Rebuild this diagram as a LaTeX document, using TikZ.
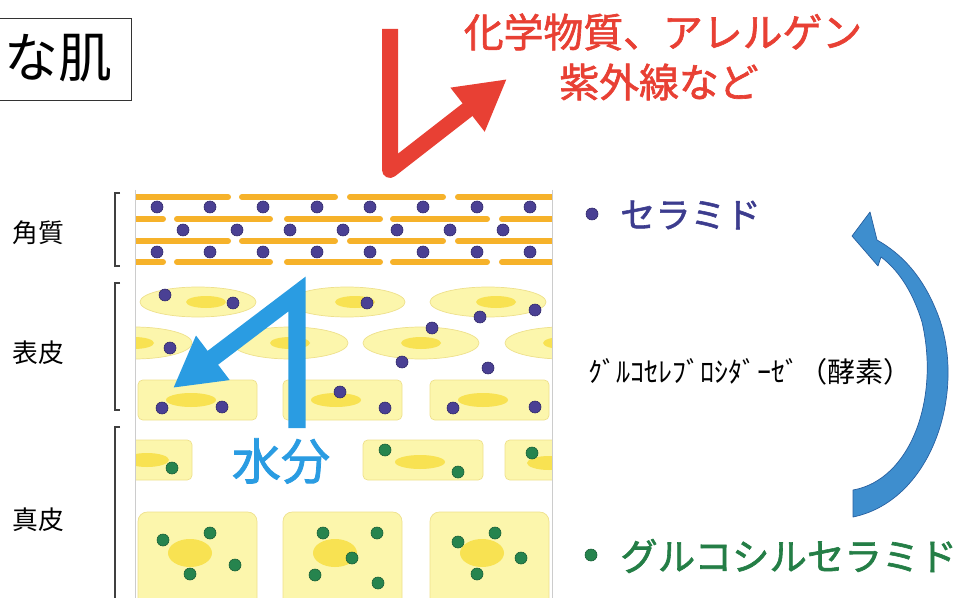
\documentclass[tikz,border=0pt]{standalone}
\usepackage{fontspec}
\setmainfont{Noto Sans CJK JP}
\newfontfamily\jpmid[FakeBold=1.6]{Noto Sans CJK JP}
\usetikzlibrary{arrows.meta}

\definecolor{chemred}{RGB}{232,64,52}
\definecolor{lipidorange}{RGB}{246,178,42}
\definecolor{cerpurple}{RGB}{74,64,148}
\definecolor{cerline}{RGB}{48,40,105}
\definecolor{glcgreen}{RGB}{38,132,78}
\definecolor{glcline}{RGB}{25,95,55}
\definecolor{cellfill}{RGB}{252,246,172}
\definecolor{cellline}{RGB}{238,224,140}
\definecolor{nucfill}{RGB}{248,226,82}
\definecolor{waterblue}{RGB}{42,156,226}
\definecolor{enzblue}{RGB}{62,142,206}
\definecolor{enzline}{RGB}{40,96,160}
\definecolor{certext}{RGB}{60,60,142}
\definecolor{glctext}{RGB}{36,126,70}

\tikzset{
  lipid/.style={draw=lipidorange, line width=0.18cm, line cap=round},
  cer/.style={fill=cerpurple, draw=cerline, line width=0.5pt},
  glc/.style={fill=glcgreen, draw=glcline, line width=0.5pt},
  cell/.style={fill=cellfill, draw=cellline, line width=0.6pt},
  nucleus/.style={fill=nucfill},
  bracket/.style={draw=black!75, line width=0.9pt},
  layerlbl/.style={font=\fontsize{22}{24}\selectfont},
}

\begin{document}
\begin{tikzpicture}[x=0.03cm, y=-0.03cm]
\useasboundingbox (0,0) rectangle (960,598);

% title box, cut by the left edge
\begin{scope}
  \clip (0,0) rectangle (960,598);
  \draw[black!80, line width=0.8pt] (-20,18) rectangle (131,100);
\end{scope}
\node (title) at (58,58) {\fontsize{46}{50}\selectfont な肌};

% red arrow and its label
\coordinate (redtop) at (390,29);
\coordinate (redbend) at (390,170);
\coordinate (redtip) at (507,79);
\draw[chemred, line width=0.48cm, line join=round,
      -{Triangle[length=1.5cm, width=1.56cm]}] (redtop) -- (redbend) -- (redtip);
\node[text=chemred] (chemtxt) at (663,32) {\jpmid\fontsize{34}{36}\selectfont 化学物質、アレルゲン};
\node[text=chemred] (uvtxt) at (659,82) {\jpmid\fontsize{34}{36}\selectfont 紫外線など};

% skin block
\begin{scope}
  \clip (135,188) rectangle (552,598);
  % horny layer
  \foreach \y in {197,241}
    \foreach \a/\b in {135/228,242/335,350/443,458/552}
      \draw[lipid] (\a,\y) -- (\b,\y);
  \foreach \y in {219,262}
    \foreach \a/\b in {120/163,177/270,287/380,393/487,502/560}
      \draw[lipid] (\a,\y) -- (\b,\y);
  \foreach \y in {207,252}
    \foreach \x in {157,210,263,317,370,423,477,530}
      \filldraw[cer] (\x,\y) circle (6);
  \foreach \x in {183,237,290,343,397,450,503}
    \filldraw[cer] (\x,230) circle (6);

  % epidermis
  \foreach \x in {198,347,488} {
    \filldraw[cell] (\x,302) ellipse (58 and 15);
    \fill[nucleus] (\x+8,302) ellipse (20 and 6);
  }
  \foreach \x in {134,290,421,563} {
    \filldraw[cell] (\x,343) ellipse (58 and 16);
    \fill[nucleus] (\x,343) ellipse (20 and 6);
  }
  \foreach \x in {138,283,430} {
    \filldraw[cell, rounded corners=4pt] (\x,380) rectangle ++(119,40);
    \fill[nucleus] (\x+53,400) ellipse (25 and 7);
  }
  \foreach \x/\y in {165/295,233/303,367/303,535/310,480/317,432/328,170/348,
                     402/362,488/368,340/392,162/408,222/407,385/408,453/408,535/407}
    \filldraw[cer] (\x,\y) circle (6);

  % dermis
  \foreach \a/\b in {80/192,363/483,505/620} {
    \filldraw[cell, rounded corners=4pt] (\a,440) rectangle (\b,480);
  }
  \fill[nucleus] (147,460) ellipse (22 and 7);
  \fill[nucleus] (420,462) ellipse (25 and 7);
  \fill[nucleus] (549,463) ellipse (22 and 7);
  \foreach \x in {138,283,430} {
    \filldraw[cell, rounded corners=8pt] (\x,512) rectangle ++(119,100);
    \fill[nucleus] (\x+52,553) ellipse (22 and 14);
  }
  \foreach \x/\y in {172/468,385/450,458/472,532/453,163/540,210/533,235/565,190/574,
                     323/533,377/533,352/558,315/575,378/583,458/542,495/533,521/558,477/574}
    \filldraw[glc] (\x,\y) circle (6);
\end{scope}
\draw[black!20, line width=0.6pt] (135,190) -- (135,598);
\draw[black!20, line width=0.6pt] (552,190) -- (552,598);

% water arrow
\coordinate (waterbot) at (297,428);
\coordinate (watertop) at (297,294);
\coordinate (watertip) at (173,388);
\draw[waterblue, line width=0.52cm, line join=miter,
      -{Triangle[length=1.5cm, width=1.56cm]}] (waterbot) -- (watertop) -- (watertip);
\node[text=waterblue] (watertxt) at (281,461) {\jpmid\fontsize{42}{44}\selectfont 水分};

% layer brackets
\draw[bracket] (120,193) -- (115,193) -- (115,266) -- (120,266);
\draw[bracket] (120,283) -- (115,283) -- (115,410) -- (120,410);
\draw[bracket] (120,427) -- (115,427) -- (115,600);
\node[layerlbl] (lblcorneum) at (38,233) {角質};
\node[layerlbl] (lblepi) at (38,353) {表皮};
\node[layerlbl] (lbldermis) at (38,520) {真皮};

% legend
\filldraw[cer] (592,214) circle (6);
\node[text=certext, anchor=west, inner sep=0pt] (certxt) at (620,215) {\jpmid\fontsize{30}{32}\selectfont セラミド};
\filldraw[glc] (591,555) circle (6);
\node[text=glctext, anchor=west, inner sep=0pt] (glctxt) at (620,556) {\jpmid\fontsize{32}{34}\selectfont グルコシルセラミド};
\node (enztxt) at (750,372) {\fontsize{24}{26}\selectfont ｸﾞﾙｺｾﾚﾌﾞﾛｼﾀﾞｰｾﾞ（酵素）};

% curved enzyme arrow
\filldraw[fill=enzblue, draw=enzline, line width=0.6pt, line join=round]
  (853,517) .. controls (935,500) and (968,385) .. (936,310)
  .. controls (922,276) and (902,254) .. (877,240)
  -- (870,212) -- (852,236) -- (878,266) -- (881,257)
  .. controls (901,272) and (914,296) .. (922,322)
  .. controls (940,400) and (910,480) .. (853,490) -- cycle;
\end{tikzpicture}
\end{document}
